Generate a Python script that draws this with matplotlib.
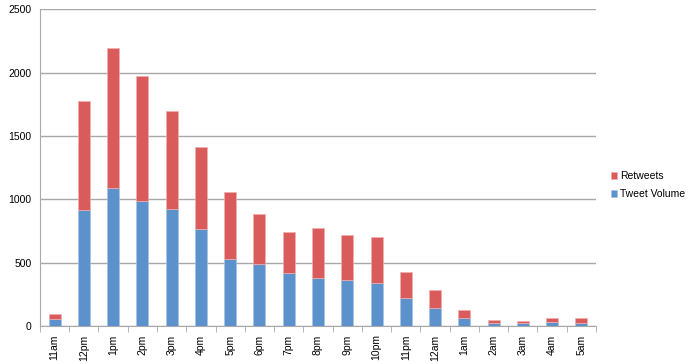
import numpy as np
import matplotlib
matplotlib.use("Agg")
import matplotlib.pyplot as plt

hours = ["11am", "12pm", "1pm", "2pm", "3pm", "4pm", "5pm", "6pm", "7pm", "8pm",
         "9pm", "10pm", "11pm", "12am", "1am", "2am", "3am", "4am", "5am"]
tweet_volume = [55, 917, 1088, 983, 920, 765, 526, 489, 421, 376,
                363, 344, 221, 145, 63, 26, 24, 34, 26]
totals = [95, 1772, 2192, 1969, 1696, 1412, 1059, 881, 739, 776,
          720, 702, 426, 284, 129, 47, 39, 63, 63]
retweets = [t - v for t, v in zip(totals, tweet_volume)]

plt.rcParams['font.family'] = ['Liberation Sans', 'DejaVu Sans']

fig = plt.figure(figsize=(6.89, 3.64), dpi=100)
ax = fig.add_axes([0.058, 0.104, 0.807, 0.871])

x = np.arange(len(hours))
w = 0.41
blue = "#5b92cc"
red = "#d95b5b"
ax.bar(x, tweet_volume, w, color=blue, edgecolor="#a9c4e6", linewidth=0.5,
       label="Tweet Volume", zorder=3)
ax.bar(x, retweets, w, bottom=tweet_volume, color=red, edgecolor="#f0b0b0",
       linewidth=0.5, label="Retweets", zorder=3)

ax.set_xlim(-0.5, len(hours) - 0.5)
ax.set_ylim(0, 2500)
ax.set_yticks(range(0, 2501, 500))
ax.yaxis.grid(True, color="#a8a8a8", linewidth=1, zorder=0)
ax.tick_params(axis='y', length=0, labelsize=7.5, pad=6)

ax.set_xticks(x)
ax.set_xticklabels(hours, rotation=90, fontsize=7.5)
ax.tick_params(axis='x', which='major', length=0, pad=6)
ax.set_xticks(np.arange(-0.5, len(hours), 1), minor=True)
ax.tick_params(axis='x', which='minor', length=4, color="#a8a8a8", direction='out')

for s in ["top", "right"]:
    ax.spines[s].set_visible(False)
for s in ["left", "bottom"]:
    ax.spines[s].set_color("#a8a8a8")

handles, labels = ax.get_legend_handles_labels()
ax.legend(handles[::-1], labels[::-1], loc="center left", bbox_to_anchor=(1.01, 0.445),
          frameon=False, fontsize=7.5, handlelength=0.6, handleheight=0.6,
          handletextpad=0.3, labelspacing=0.75)

fig.savefig("out.png", dpi=100)
